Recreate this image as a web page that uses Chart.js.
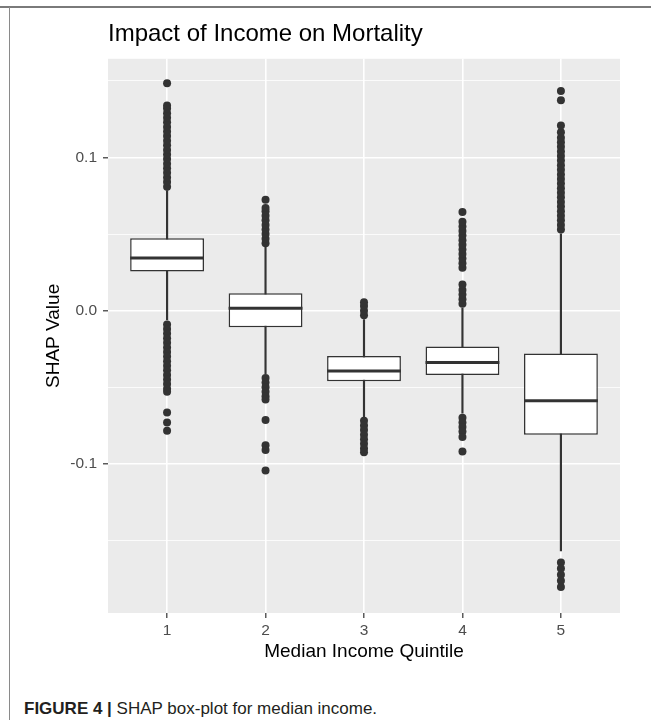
<!DOCTYPE html>
<html>
<head>
<meta charset="utf-8">
<script src="https://cdn.jsdelivr.net/npm/chart.js@4.4.1/dist/chart.umd.min.js"></script>
<style>
    html, body { margin: 0; padding: 0; background: #fff; }
    #figure { position: relative; width: 651px; height: 720px; overflow: hidden; font-family: "Liberation Sans", Arial, sans-serif; }
    #chartBox { position: absolute; left: 0; top: 0; width: 651px; height: 670px; }
    #frameTop { position: absolute; left: 0; top: 6px; width: 651px; height: 0; border-top: 2px solid #7a7a7a; }
    #frameLeft { position: absolute; left: 9px; top: 7px; width: 0; height: 713px; border-left: 1px solid #8a8a8a; }
    #caption { position: absolute; left: 24px; top: 699px; font-size: 17px; line-height: 20px; color: #231f20; white-space: nowrap; }
</style>
</head>
<body>
<div id="figure">
    <div id="chartBox"><canvas id="myChart"></canvas></div>
    <div id="frameTop"></div>
    <div id="frameLeft"></div>
    <div id="caption"><b>FIGURE 4 |</b> SHAP box-plot for median income.</div>
</div>
<script>
// median income quintiles and box-plot stats
const quintiles = ['1', '2', '3', '4', '5'];
const q1 = [0.0255, -0.0109, -0.0461, -0.0420, -0.0810];
const median = [0.0344, 0.0015, -0.0394, -0.0338, -0.0588];
const q3 = [0.0473, 0.0113, -0.0297, -0.0235, -0.0280];
const whiskerLow = [-0.0060, -0.0414, -0.0694, -0.0670, -0.1570];
const whiskerHigh = [0.0785, 0.0414, -0.0058, 0.0017, 0.0502];

// outlier points per quintile
const outliers1 = [0.081, 0.084, 0.087, 0.090, 0.093, 0.096, 0.099, 0.102, 0.105, 0.108, 0.111, 0.114,
    0.117, 0.120, 0.123, 0.126, 0.129, 0.132, 0.134, 0.1485,
    -0.009, -0.012, -0.015, -0.018, -0.021, -0.024, -0.027, -0.030, -0.033, -0.036, -0.039, -0.042,
    -0.045, -0.048, -0.051, -0.053, -0.0665, -0.073, -0.0785];
const outliers2 = [0.044, 0.047, 0.050, 0.053, 0.056, 0.059, 0.062, 0.065, 0.067, 0.0725,
    -0.044, -0.047, -0.050, -0.053, -0.056, -0.058, -0.0715, -0.088, -0.091, -0.1044];
const outliers3 = [-0.003, 0.000, 0.003, 0.0055,
    -0.072, -0.075, -0.078, -0.081, -0.084, -0.087, -0.090, -0.0925];
const outliers4 = [0.0045, 0.0075, 0.0105, 0.0135, 0.017, 0.028, 0.031, 0.034, 0.037, 0.040, 0.043,
    0.046, 0.049, 0.052, 0.055, 0.058, 0.0645,
    -0.070, -0.073, -0.076, -0.079, -0.0825, -0.092];
const outliers5 = [0.053, 0.056, 0.059, 0.062, 0.065, 0.068, 0.071, 0.074, 0.077, 0.080, 0.083, 0.086,
    0.089, 0.092, 0.095, 0.098, 0.101, 0.104, 0.107, 0.110, 0.113, 0.1165, 0.121, 0.1375, 0.1435,
    -0.1645, -0.1685, -0.1725, -0.1765, -0.1805];
const outlierSets = [outliers1, outliers2, outliers3, outliers4, outliers5];

// axis
const yMin = -0.1975;
const yMax = 0.1645;
const yGridValues = [-0.15, -0.1, -0.05, 0, 0.05, 0.1, 0.15];
const yLabelValues = [-0.1, 0, 0.1];

const fontFamily = '"Liberation Sans", Arial, sans-serif';
Chart.defaults.font.family = fontFamily;

const isMajorY = (c) => c.tick && yLabelValues.includes(c.tick.value);

const panelBackground = {
    id: 'panelBackground',
    beforeDraw(chart) {
        const {ctx, chartArea: a} = chart;
        ctx.save();
        ctx.fillStyle = '#EBEBEB';
        ctx.fillRect(a.left, a.top, a.right - a.left, a.bottom - a.top);
        ctx.restore();
    }
};

const medianLines = {
    id: 'medianLines',
    afterDatasetsDraw(chart) {
        const {ctx, scales: {x, y}} = chart;
        const half = x.getPixelForValue(1.375) - x.getPixelForValue(1);
        ctx.save();
        ctx.strokeStyle = '#333333';
        ctx.lineWidth = 3;
        median.forEach((m, i) => {
            const cx = x.getPixelForValue(i + 1);
            const py = y.getPixelForValue(m);
            ctx.beginPath();
            ctx.moveTo(cx - half, py);
            ctx.lineTo(cx + half, py);
            ctx.stroke();
        });
        ctx.restore();
    }
};

const outlierPoints = [];
outlierSets.forEach((set, i) => {
    set.forEach((v) => outlierPoints.push({x: i + 1, y: v}));
});

const ctx = document.getElementById('myChart');

const boxChart = new Chart(ctx, {
    type: 'bar',
    data: {
        datasets: [
            {
                label: 'boxes',
                data: quintiles.map((q, i) => ({x: i + 1, y: [q1[i], q3[i]]})),
                backgroundColor: '#FFFFFF',
                borderColor: '#333333',
                borderWidth: 1.5,
                borderSkipped: false,
                barPercentage: 0.75,
                categoryPercentage: 1,
                grouped: false,
                order: 1
            },
            {
                label: 'whiskers',
                data: quintiles.map((q, i) => ({x: i + 1, y: [whiskerLow[i], whiskerHigh[i]]})),
                backgroundColor: '#333333',
                borderWidth: 0,
                barThickness: 1.5,
                grouped: false,
                order: 2
            },
            {
                type: 'scatter',
                label: 'outliers',
                data: outlierPoints,
                pointRadius: 4,
                pointHoverRadius: 4,
                pointBackgroundColor: '#333333',
                pointBorderWidth: 0,
                order: 0
            }
        ]
    },
    options: {
        responsive: true,
        maintainAspectRatio: false,
        animation: false,
        layout: {
            padding: {left: 0, right: 31, top: 0, bottom: 0}
        },
        plugins: {
            legend: {display: false},
            tooltip: {enabled: false},
            title: {
                display: true,
                text: 'Impact of Income on Mortality',
                align: 'start',
                fullSize: false,
                color: '#000000',
                font: {size: 24, weight: 'normal'},
                padding: {top: 20, bottom: 10}
            }
        },
        scales: {
            x: {
                type: 'linear',
                min: 0.4,
                max: 5.6,
                offset: false,
                afterBuildTicks: (axis) => {
                    axis.ticks = quintiles.map((q, i) => ({value: i + 1}));
                },
                afterFit: (axis) => {
                    axis.height = 57;
                },
                ticks: {
                    callback: (value) => quintiles[value - 1],
                    color: '#4D4D4D',
                    font: {size: 15.5},
                    padding: 3,
                    maxRotation: 0,
                    autoSkip: false
                },
                grid: {
                    color: '#FFFFFF',
                    lineWidth: 1.6,
                    tickColor: '#333333',
                    tickLength: 5,
                    tickWidth: 1.2,
                    offset: false
                },
                border: {display: false},
                title: {
                    display: true,
                    text: 'Median Income Quintile',
                    color: '#000000',
                    font: {size: 19},
                    padding: {top: 0, bottom: 7}
                }
            },
            y: {
                min: yMin,
                max: yMax,
                afterBuildTicks: (axis) => {
                    axis.ticks = yGridValues.map((v) => ({value: v}));
                },
                afterFit: (axis) => {
                    axis.width = 108;
                },
                ticks: {
                    callback: (value) => yLabelValues.includes(value) ? value.toFixed(1) : '',
                    color: '#4D4D4D',
                    font: {size: 15.5},
                    padding: 6
                },
                grid: {
                    color: '#FFFFFF',
                    lineWidth: (c) => isMajorY(c) ? 1.6 : 0.8,
                    tickColor: (c) => isMajorY(c) ? '#333333' : 'rgba(0,0,0,0)',
                    tickLength: 5,
                    tickWidth: 1.2
                },
                border: {display: false},
                title: {
                    display: true,
                    text: 'SHAP Value',
                    color: '#000000',
                    font: {size: 19},
                    padding: {top: 42, bottom: 0}
                }
            }
        }
    },
    plugins: [panelBackground, medianLines]
});
</script>
</body>
</html>
